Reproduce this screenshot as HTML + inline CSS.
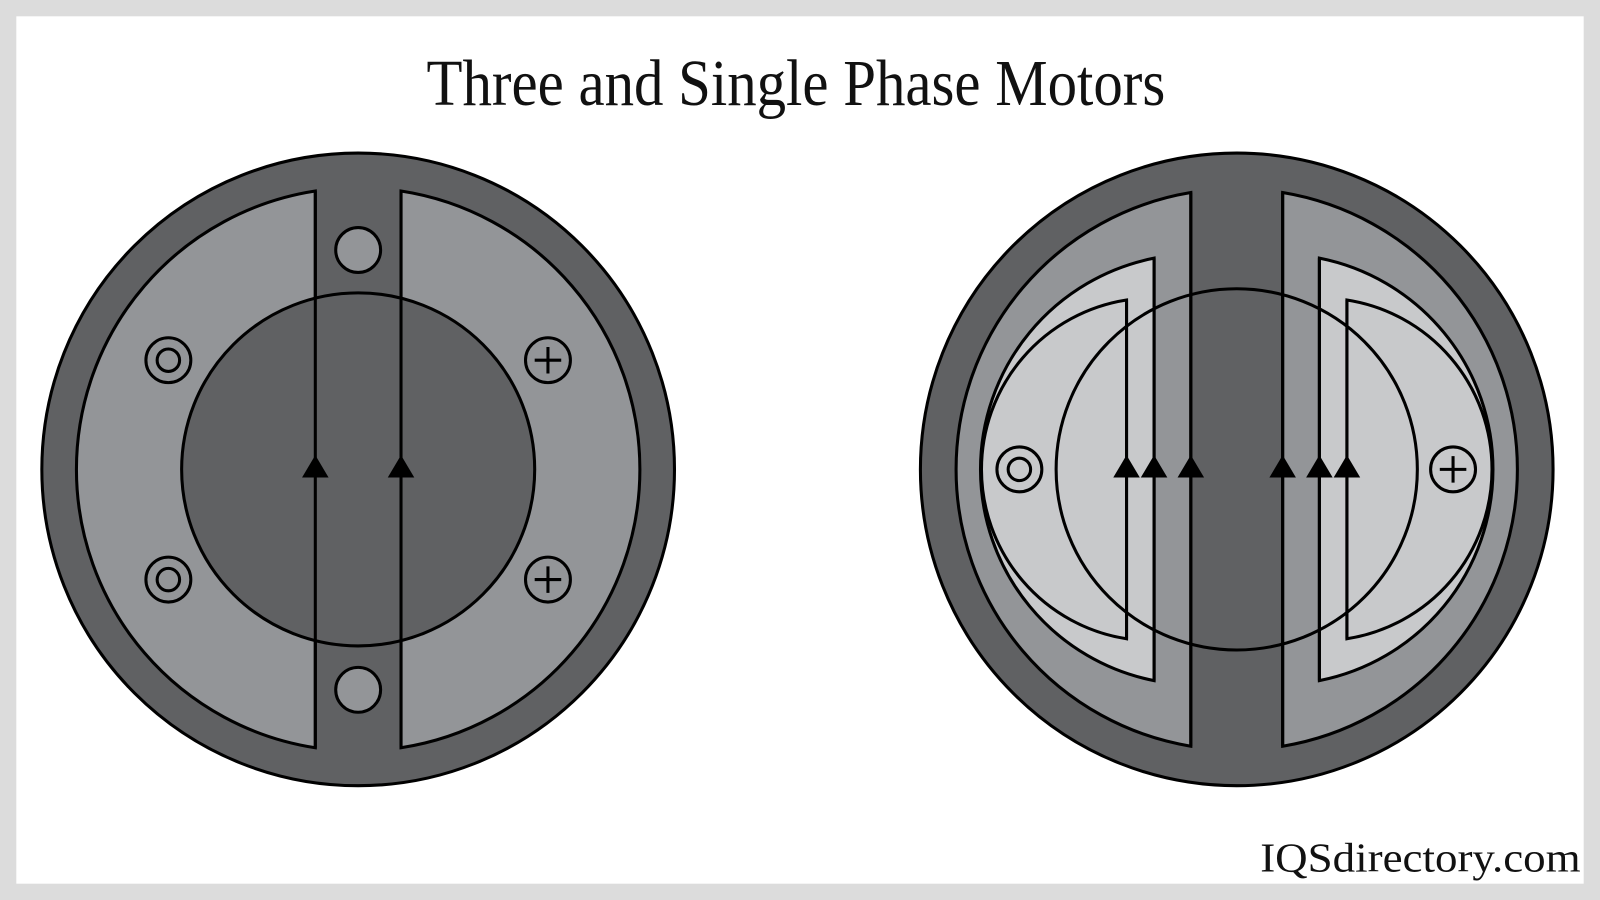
<!DOCTYPE html>
<html><head><meta charset="utf-8"><style>html,body{margin:0;padding:0;background:#ddd}svg{display:block}</style></head>
<body>
<svg width="1600" height="900" viewBox="0 0 1568 882" preserveAspectRatio="none" xmlns="http://www.w3.org/2000/svg">
<rect x="0" y="0" width="1568" height="882" fill="#dcdcdc"/>
<rect x="16" y="16" width="1536" height="850" fill="#ffffff"/>
<text x="780" y="103" text-anchor="middle" font-family="Liberation Serif, serif" font-size="64" textLength="724" lengthAdjust="spacingAndGlyphs" fill="#111">Three and Single Phase Motors</text>
<text x="1392" y="854" text-anchor="middle" font-family="Liberation Serif, serif" font-size="40" textLength="314" lengthAdjust="spacingAndGlyphs" fill="#111">IQSdirectory.com</text>

<g stroke="#000" stroke-width="3">
<!-- Left motor -->
<circle cx="351" cy="460" r="310" fill="#606163"/>
<path d="M309 187.2 A276 276 0 0 0 309 732.8 Z" fill="#939598"/>
<path d="M393 187.2 A276 276 0 0 1 393 732.8 Z" fill="#939598"/>
<circle cx="351" cy="460" r="173" fill="#606163"/>
<line x1="309" y1="187.2" x2="309" y2="732.8"/>
<line x1="393" y1="187.2" x2="393" y2="732.8"/>
<circle cx="351" cy="245" r="22" fill="#939598"/>
<circle cx="351" cy="676" r="22" fill="#939598"/>
<circle cx="165" cy="353" r="22" fill="none"/><circle cx="165" cy="353" r="11" fill="none"/>
<circle cx="165" cy="568" r="22" fill="none"/><circle cx="165" cy="568" r="11" fill="none"/>
<circle cx="537" cy="353" r="22" fill="none"/><path d="M524 353h26M537 340v26"/>
<circle cx="537" cy="568" r="22" fill="none"/><path d="M524 568h26M537 555v26"/>

<!-- Right motor -->
<circle cx="1212" cy="460" r="310" fill="#606163"/>
<path d="M1167 188.7 A275 275 0 0 0 1167 731.3 Z" fill="#939598"/>
<path d="M1257 188.7 A275 275 0 0 1 1257 731.3 Z" fill="#939598"/>
<path d="M1131 253 A211 211 0 0 0 1131 667 Z" fill="#c8c9cb"/>
<path d="M1104 294 A168 168 0 0 0 1104 626 Z" fill="#c8c9cb"/>
<path d="M1293 253 A211 211 0 0 1 1293 667 Z" fill="#c8c9cb"/>
<path d="M1320 294 A168 168 0 0 1 1320 626 Z" fill="#c8c9cb"/>
<circle cx="1212" cy="460" r="177" fill="none"/>
<line x1="1104" y1="294" x2="1104" y2="626"/>
<line x1="1131" y1="253" x2="1131" y2="667"/>
<line x1="1167" y1="188.7" x2="1167" y2="731.3"/>
<line x1="1257" y1="188.7" x2="1257" y2="731.3"/>
<line x1="1293" y1="253" x2="1293" y2="667"/>
<line x1="1320" y1="294" x2="1320" y2="626"/>
<circle cx="999" cy="460" r="22" fill="none"/><circle cx="999" cy="460" r="11" fill="none"/>
<circle cx="1424" cy="460" r="22" fill="none"/><path d="M1411 460h26M1424 447v26"/>
</g>
<g fill="#000">
<path d="M309 446 l-13 22 h26 z"/>
<path d="M393 446 l-13 22 h26 z"/>
<path d="M1104 446 l-13 22 h26 z"/>
<path d="M1131 446 l-13 22 h26 z"/>
<path d="M1167 446 l-13 22 h26 z"/>
<path d="M1257 446 l-13 22 h26 z"/>
<path d="M1293 446 l-13 22 h26 z"/>
<path d="M1320 446 l-13 22 h26 z"/>
</g>
</svg>
</body></html>
